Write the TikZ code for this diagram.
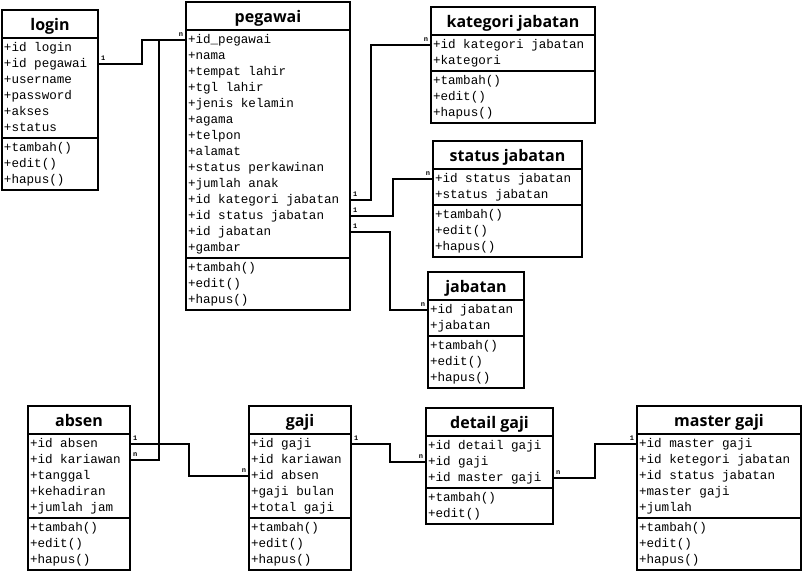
\documentclass[tikz,border=0pt]{standalone}
\usepackage{fontspec}
\setmonofont{Liberation Mono}
\newfontfamily\titlefont{Open Sans}
\usetikzlibrary{shapes.multipart}
\newcommand{\judul}[1]{{\titlefont\bfseries\fontsize{16}{16}\selectfont\rule[-6pt]{0pt}{24pt}#1}}

\begin{document}
\begin{tikzpicture}[x=1pt,y=-1pt,
    kelas/.style={draw, line width=2pt, rectangle split, rectangle split parts=3,
      rectangle split part align={center,left,left}, anchor=north west,
      inner xsep=2pt, inner ysep=1pt, font=\ttfamily\fontsize{12.6}{16}\selectfont},
    relasi/.style={line width=2pt},
    kard/.style={font=\ttfamily\bfseries\fontsize{7}{7}\selectfont, inner sep=1pt, yshift=2pt}]
  \useasboundingbox[fill=white] (0,0) rectangle (802,573);
  % kelas
  \node[kelas, minimum width=96pt] (login) at (1,9) {\judul{login}
    \nodepart{two}\begin{tabular}{@{}l@{}}+id login\\+id pegawai\\+username\\+password\\+akses\\+status\end{tabular}
    \nodepart{three}\begin{tabular}{@{}l@{}}+tambah()\\+edit()\\+hapus()\end{tabular}};
  \node[kelas, minimum width=164pt] (pegawai) at (185,1) {\judul{pegawai}
    \nodepart{two}\begin{tabular}{@{}l@{}}+id\_pegawai\\+nama\\+tempat lahir\\+tgl lahir\\+jenis kelamin\\+agama\\+telpon\\+alamat\\+status perkawinan\\+jumlah anak\\+id kategori jabatan\\+id status jabatan\\+id jabatan\\+gambar\end{tabular}
    \nodepart{three}\begin{tabular}{@{}l@{}}+tambah()\\+edit()\\+hapus()\end{tabular}};
  \node[kelas, minimum width=164pt] (kategori) at (430,6) {\judul{kategori jabatan}
    \nodepart{two}\begin{tabular}{@{}l@{}}+id kategori jabatan\\+kategori\end{tabular}
    \nodepart{three}\begin{tabular}{@{}l@{}}+tambah()\\+edit()\\+hapus()\end{tabular}};
  \node[kelas, minimum width=149pt] (status) at (432,140) {\judul{status jabatan}
    \nodepart{two}\begin{tabular}{@{}l@{}}+id status jabatan\\+status jabatan\end{tabular}
    \nodepart{three}\begin{tabular}{@{}l@{}}+tambah()\\+edit()\\+hapus()\end{tabular}};
  \node[kelas, minimum width=96pt] (jabatan) at (427,271) {\judul{jabatan}
    \nodepart{two}\begin{tabular}{@{}l@{}}+id jabatan\\+jabatan\end{tabular}
    \nodepart{three}\begin{tabular}{@{}l@{}}+tambah()\\+edit()\\+hapus()\end{tabular}};
  \node[kelas, minimum width=102pt] (absen) at (27,405) {\judul{absen}
    \nodepart{two}\begin{tabular}{@{}l@{}}+id absen\\+id kariawan\\+tanggal\\+kehadiran\\+jumlah jam\end{tabular}
    \nodepart{three}\begin{tabular}{@{}l@{}}+tambah()\\+edit()\\+hapus()\end{tabular}};
  \node[kelas, minimum width=102pt] (gaji) at (248,405) {\judul{gaji}
    \nodepart{two}\begin{tabular}{@{}l@{}}+id gaji\\+id kariawan\\+id absen\\+gaji bulan\\+total gaji\end{tabular}
    \nodepart{three}\begin{tabular}{@{}l@{}}+tambah()\\+edit()\\+hapus()\end{tabular}};
  \node[kelas, minimum width=127pt] (detail) at (425,407) {\judul{detail gaji}
    \nodepart{two}\begin{tabular}{@{}l@{}}+id detail gaji\\+id gaji\\+id master gaji\end{tabular}
    \nodepart{three}\begin{tabular}{@{}l@{}}+tambah()\\+edit()\end{tabular}};
  \node[kelas, minimum width=164pt] (master) at (636,405) {\judul{master gaji}
    \nodepart{two}\begin{tabular}{@{}l@{}}+id master gaji\\+id ketegori jabatan\\+id status jabatan\\+master gaji\\+jumlah\end{tabular}
    \nodepart{three}\begin{tabular}{@{}l@{}}+tambah()\\+edit()\\+hapus()\end{tabular}};
  % relasi
  \draw[relasi] ([yshift=-26pt]login.text split east) node[kard, above right] {1}
    -- ++(43,0) |- ([yshift=-10pt]pegawai.text split west) node[kard, above left] {n};
  \draw[relasi] ([yshift=-26pt]absen.text split east) node[kard, above right] {n}
    -- ++(28,0) |- ([yshift=-10pt]pegawai.text split west);
  \draw[relasi] ([yshift=-10pt]absen.text split east) node[kard, above right] {1}
    -- ++(58,0) |- ([yshift=-42pt]gaji.text split west) node[kard, above left] {n};
  \draw[relasi] ([yshift=-10pt]gaji.text split east) node[kard, above right] {1}
    -- ++(38,0) |- ([yshift=-26pt]detail.text split west) node[kard, above left] {n};
  \draw[relasi] ([yshift=-42pt]detail.text split east) node[kard, above right] {n}
    -- ++(41,0) |- ([yshift=-10pt]master.text split west) node[kard, above left] {1};
  \draw[relasi] ([yshift=-170pt]pegawai.text split east) node[kard, above right] {1}
    -- ++(20,0) |- ([yshift=-10pt]kategori.text split west) node[kard, above left] {n};
  \draw[relasi] ([yshift=-186pt]pegawai.text split east) node[kard, above right] {1}
    -- ++(42,0) |- ([yshift=-10pt]status.text split west) node[kard, above left] {n};
  \draw[relasi] ([yshift=-202pt]pegawai.text split east) node[kard, above right] {1}
    -- ++(39,0) |- ([yshift=-10pt]jabatan.text split west) node[kard, above left] {n};
\end{tikzpicture}
\end{document}
